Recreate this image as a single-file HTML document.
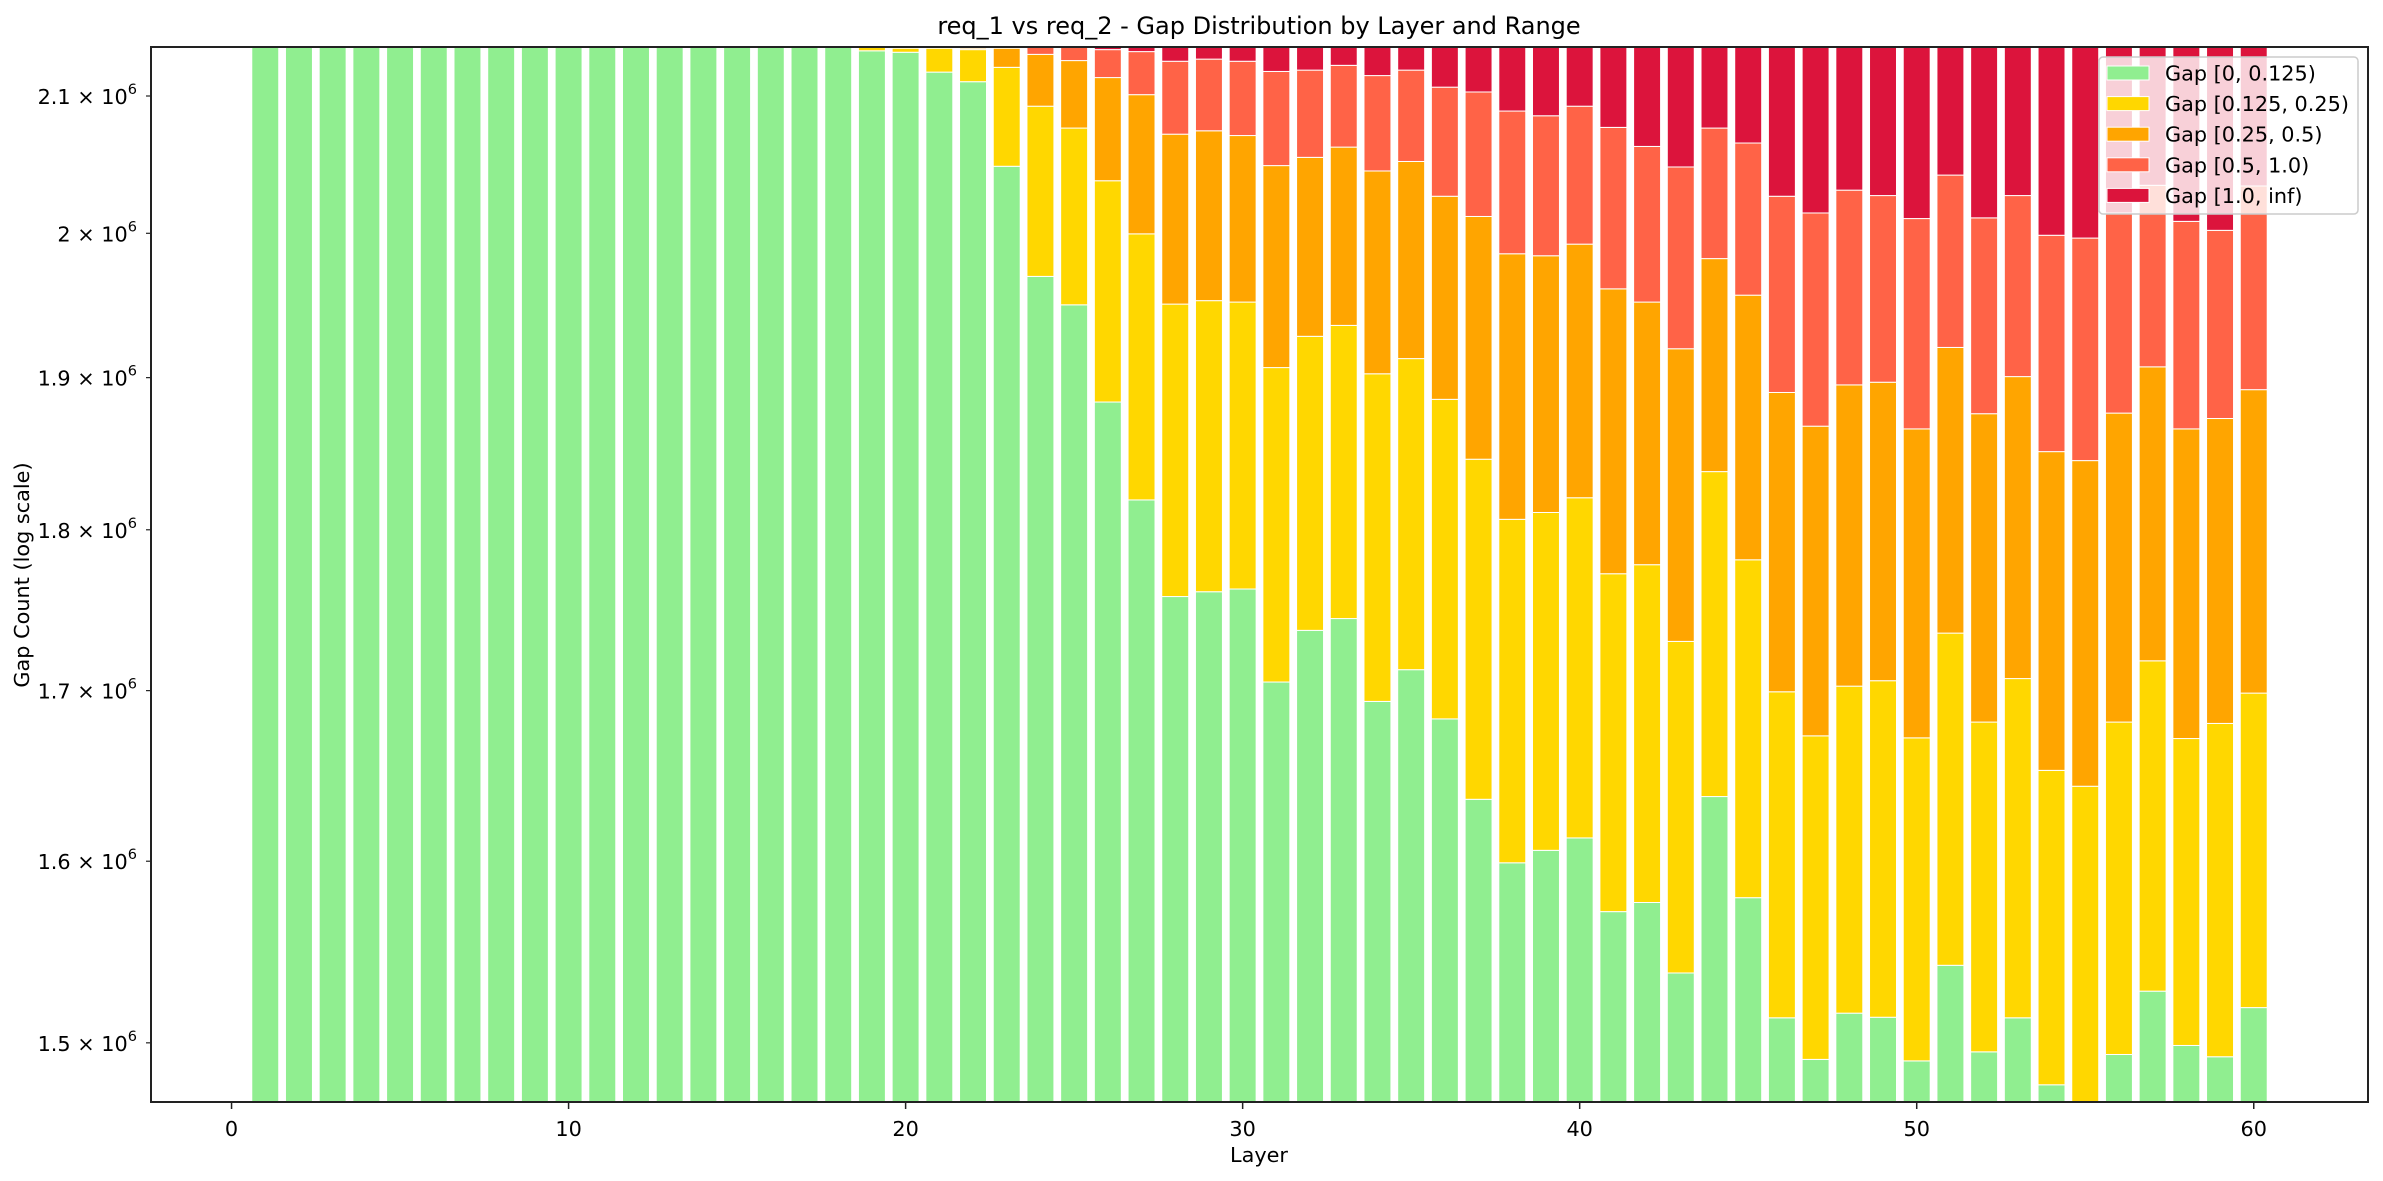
<!DOCTYPE html>
<html><head><meta charset="utf-8"><style>
html,body{margin:0;padding:0;background:#fff;width:2383px;height:1181px;overflow:hidden}
svg{display:block;font-family:"DejaVu Sans","Liberation Sans",sans-serif}
</style></head><body>
<svg id="chart" width="2383" height="1181" viewBox="0 0 2383 1181" xmlns="http://www.w3.org/2000/svg">
<defs><clipPath id="plotclip"><rect x="151" y="47" width="2217" height="1055"/></clipPath></defs>
<text x="1259" y="34" font-size="24" text-anchor="middle" fill="#000">req_1 vs req_2 - Gap Distribution by Layer and Range</text>
<g id="bars" clip-path="url(#plotclip)"></g>
<rect x="151" y="47" width="2217" height="1055" fill="none" stroke="#222" stroke-width="2"/>
<g id="xaxis"></g><g id="yaxis"></g>
<text x="1259" y="1162" font-size="20.8" text-anchor="middle">Layer</text>
<text transform="translate(29,575) rotate(-90)" font-size="20.8" text-anchor="middle">Gap Count (log scale)</text>
<g id="legend"></g>
</svg>
<script>
const layers = Array.from({length:60},(_,i)=>i+1);
// values in thousands of gaps
const gap0 = [2250,2250,2250,2250,2250,2250,2250,2250,2250,2250,2250,2250,2250,2250,2250,2250,2250,2250,2134,2132.9,2117.9,2110.7,2048.2,1969.6,1949.8,1883.6,1819.2,1757.8,1760.8,1762.5,1705.2,1736.8,1744.1,1693.5,1712.7,1683.0,1635.6,1599.1,1606.2,1613.3,1571.6,1576.7,1537.7,1637.2,1579.4,1513.4,1491.2,1515.9,1513.7,1490.4,1541.9,1495.2,1513.4,1477.8,1460,1493.8,1527.8,1498.6,1492.6,1518.9];
const gap1 = [0,0,0,0,0,0,0,0,0,0,0,0,0,0,0,0,0,0,3,3.1,18.1,24.2,73.3,122.8,126.4,154.1,180.4,192.5,191.9,189.2,201.6,191.3,191.5,209.1,200.2,202.4,210.1,207.6,204.9,207.3,200.5,201.1,192.3,200.4,201.5,185.9,181.7,186.8,192.3,181.3,193.2,185.9,193.9,174.7,183.2,187.3,190.3,172.7,187.7,179.6];
const gap2 = [0,0,0,0,0,0,0,0,0,0,0,0,0,0,0,0,0,0,2,2,3,1.1,14.5,38.9,50.4,76.1,101.4,121.4,121.5,119.0,141.9,126.6,126.6,142.2,138.8,141.1,166.3,178.8,173.0,171.7,188.8,173.9,189.6,144.5,175.6,190.7,194.6,192.4,190.9,194.0,185.4,194.7,193.4,198.2,201.6,195.1,189.2,194.4,192.3,193.4];
const gap3 = [0,0,0,0,0,0,0,0,0,0,0,0,0,0,0,0,0,0,2,2,2,3,3,5.7,10.4,21.1,32.4,54.4,53.5,55.4,69.7,64.7,60.8,70.5,67.7,80.1,91.0,103.3,101.2,100.1,115.8,111.0,128.1,94.1,108.7,136.5,147.0,135.8,130.1,144.8,121.3,135.2,126.3,147.9,151.8,138.3,127.1,142.8,129.5,142.0];
const gap4 = [0,0,0,0,0,0,0,0,0,0,0,0,0,0,0,0,0,0,109,110,109,111,111,113,113,115.1,116.6,123.9,122.3,123.9,131.6,130.6,127,134.7,130.6,143.4,147,161.2,164.7,157.6,173.3,187.3,202.3,173.8,184.8,223.5,235.5,219.1,223,239.5,208.2,239,223,251.4,253.4,235.5,215.6,241.5,247.9,216.1];
const seriesNames = ["Gap [0, 0.125)","Gap [0.125, 0.25)","Gap [0.25, 0.5)","Gap [0.5, 1.0)","Gap [1.0, inf)"];
const seriesColors = ["#90ee90","#ffd700","#ffa500","#ff6347","#dc143c"];
const xTicks = [0,10,20,30,40,50,60];
const yTicks = [1.5,1.6,1.7,1.8,1.9,2,2.1];

const NS="http://www.w3.org/2000/svg";
const X0=151,X1=2368,XMIN=-2.39,XMAX=63.39;
const xs=v=>X0+(v-XMIN)/(XMAX-XMIN)*(X1-X0);
const ys=v=>96-2814*Math.log(v/2.1e6);
const clampY=y=>Math.max(40,Math.min(1110,y));
function mk(tag,attrs,parent){const e=document.createElementNS(NS,tag);for(const k in attrs)e.setAttribute(k,attrs[k]);parent.appendChild(e);return e;}

const series=[gap0,gap1,gap2,gap3,gap4];
const barsG=document.getElementById('bars');
layers.forEach((L,i)=>{
  let cum=0;
  series.forEach((s,k)=>{
    const v=s[i]*1000; if(v<=0) return;
    const lo=cum; cum+=v;
    const yTop=clampY(ys(cum)), yBot=lo===0?1110:clampY(ys(lo));
    const r=mk('rect',{x:xs(L-0.4),y:yTop,width:xs(L+0.4)-xs(L-0.4),height:Math.max(0,yBot-yTop),fill:seriesColors[k],stroke:'#fff','stroke-width':1},barsG);
    
    
  });
});

const xa=document.getElementById('xaxis');
xTicks.forEach(t=>{
  const x=xs(t);
  const l=mk('line',{x1:x,x2:x,y1:1102,y2:1109,stroke:'#222','stroke-width':1.5},xa);
  
  
  const tx=mk('text',{x:x,y:1136,'font-size':20.8,'text-anchor':'middle'},xa);
  tx.textContent=t;
  
  
});
const ya=document.getElementById('yaxis');
yTicks.forEach(t=>{
  const y=ys(t*1e6);
  const l=mk('line',{x1:146,x2:151,y1:y,y2:y,stroke:'#222','stroke-width':1.2},ya);
  
  
  const tx=mk('text',{x:137,y:y+8,'font-size':20.8,'text-anchor':'end'},ya);
  
  
  const a=document.createElementNS(NS,'tspan');a.textContent=t+' \u00d7 10';tx.appendChild(a);
  const b=document.createElementNS(NS,'tspan');b.textContent='6';b.setAttribute('font-size','14.5');b.setAttribute('dy','-10');tx.appendChild(b);
});

const lg=document.getElementById('legend');
mk('rect',{x:2099,y:57,width:259,height:157,rx:4,fill:'#fff','fill-opacity':0.8,stroke:'#ccc','stroke-width':1.5},lg);
seriesNames.forEach((n,k)=>{
  const y=73+k*30.6;
  const p=mk('rect',{x:2107,y:y-7,width:42,height:14,fill:seriesColors[k],stroke:'#fff','stroke-width':1},lg);
  
  
  const t=mk('text',{x:2165,y:y+7.5,'font-size':20.8},lg);
  t.textContent=n;
  
  
});
</script>
</body></html>
